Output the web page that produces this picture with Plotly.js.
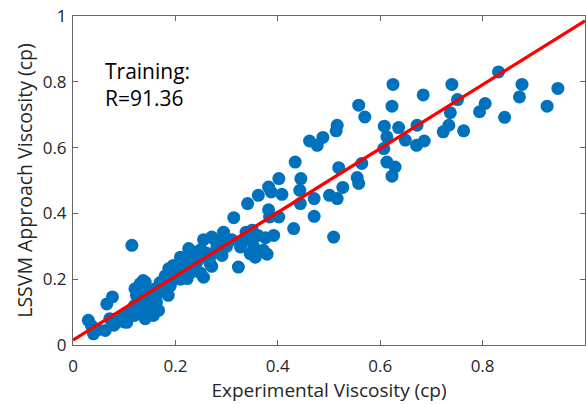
<!DOCTYPE html>
<html>
<head>
<meta charset="utf-8">
<script src="https://cdn.plot.ly/plotly-3.0.1.min.js"></script>
<style>html,body{margin:0;padding:0;background:#fff;}#chart{width:586px;height:405px;}</style>
</head>
<body>
<div id="chart"></div>
<script>
// Experimental viscosity (cp)
const expVisc = [
0.947,0.926,0.877,0.872,0.831,0.843,0.805,0.794,0.763,0.751,0.740,0.737,0.734,0.723,0.684,
0.686,0.672,0.671,0.649,0.636,0.625,0.623,0.623,0.629,0.613,0.613,0.607,0.608,0.570,0.558,
0.564,0.555,0.558,0.527,0.519,0.516,0.514,0.501,0.516,0.509,0.488,0.477,0.462,0.471,0.471,
0.445,0.443,0.444,0.434,0.431,0.402,0.408,0.402,0.387,0.382,0.382,0.384,0.392,0.379,0.376,
0.372,0.362,0.361,0.356,0.353,0.350,0.350,0.346,0.341,0.338,0.327,0.323,0.314,0.297,0.294,
0.291,0.288,0.281,0.281,0.275,0.271,0.271,0.271,0.268,0.255,0.255,0.252,0.249,0.242,0.241,
0.236,0.232,0.226,0.223,0.216,0.210,0.203,0.196,0.189,0.187,0.186,0.183,0.180,0.176,0.171,
0.170,0.167,0.163,0.157,0.150,0.141,0.141,0.137,0.137,0.131,0.131,0.124,0.121,0.115,0.114,
0.105,0.085,0.077,0.072,0.066,0.063,0.049,0.040,0.036,0.030,
0.090,0.100,0.110,0.120,0.130,0.140,0.150,0.160,0.170,0.180,0.190,0.200,0.210,0.220,0.230,
0.240,0.250,0.260,0.210,0.190,0.160,0.150,0.120,0.100,0.080,0.300,0.310,0.330,0.290,0.200
];
// LSSVM approach viscosity (cp)
const lssvmVisc = [
0.780,0.726,0.792,0.754,0.830,0.692,0.734,0.709,0.651,0.746,0.792,0.706,0.668,0.648,0.760,
0.620,0.668,0.607,0.623,0.661,0.792,0.726,0.513,0.541,0.633,0.556,0.597,0.665,0.693,0.729,
0.552,0.509,0.491,0.479,0.539,0.445,0.651,0.455,0.668,0.328,0.631,0.607,0.620,0.445,0.391,
0.506,0.470,0.430,0.556,0.354,0.506,0.458,0.389,0.465,0.480,0.411,0.389,0.333,0.276,0.326,
0.288,0.455,0.333,0.267,0.298,0.349,0.323,0.278,0.430,0.343,0.298,0.237,0.387,0.313,0.343,
0.272,0.296,0.298,0.310,0.323,0.328,0.275,0.239,0.247,0.320,0.206,0.267,0.219,0.252,0.283,
0.267,0.222,0.293,0.202,0.252,0.267,0.202,0.242,0.227,0.232,0.151,0.202,0.196,0.176,0.186,
0.161,0.105,0.130,0.090,0.120,0.191,0.080,0.196,0.110,0.186,0.130,0.151,0.171,0.303,0.105,
0.069,0.069,0.146,0.080,0.125,0.044,0.047,0.034,0.059,0.075,
0.080,0.090,0.100,0.120,0.140,0.150,0.160,0.170,0.190,0.210,0.220,0.240,0.230,0.250,0.260,
0.270,0.290,0.280,0.200,0.180,0.130,0.140,0.090,0.070,0.060,0.300,0.320,0.310,0.290,0.210
];
// Fitted line end points
const fitX = [0, 1];
const fitY = [0.015, 0.985];
const tickVals = [0, 0.2, 0.4, 0.6, 0.8, 1];
const tickText = ['0', '0.2', '0.4', '0.6', '0.8', '1'];

const FONT = 'Open Sans, sans-serif';
const axisCommon = {
  range: [0, 1],
  tickvals: tickVals,
  ticktext: tickText,
  ticks: 'inside',
  ticklen: 5,
  tickcolor: '#666',
  showline: true,
  linecolor: '#666',
  linewidth: 1,
  mirror: 'ticks',
  showgrid: false,
  zeroline: false,
  tickfont: {family: FONT, size: 17, color: '#262626'},
  fixedrange: true
};

const data = [
  {x: expVisc, y: lssvmVisc, type: 'scatter', mode: 'markers',
   marker: {color: '#0072BD', size: 13, line: {width: 0}}, showlegend: false},
  {x: fitX, y: fitY, type: 'scatter', mode: 'lines',
   line: {color: '#FF0000', width: 3.2}, showlegend: false}
];

const layout = {
  width: 586, height: 405,
  margin: {l: 73, r: 1, t: 16, b: 60},
  paper_bgcolor: '#fff', plot_bgcolor: '#fff',
  xaxis: Object.assign({}, axisCommon, {
    ticklabelstandoff: 6,
    title: {text: 'Experimental Viscosity (cp)', standoff: 3,
            font: {family: FONT, size: 19, color: '#262626'}}
  }),
  yaxis: Object.assign({}, axisCommon, {
    ticklabelstandoff: 2,
    title: {text: 'LSSVM Approach Viscosity (cp)', standoff: 4,
            font: {family: FONT, size: 19.5, color: '#262626'}}
  }),
  annotations: [{
    xref: 'x', yref: 'y', x: 0.058, y: 0.88, xanchor: 'left', yanchor: 'top',
    text: 'Training:<br>R=91.36', showarrow: false, align: 'left',
    font: {family: FONT, size: 21, color: '#000'}
  }]
};

Plotly.newPlot('chart', data, layout, {displayModeBar: false, staticPlot: true});
</script>
</body>
</html>
